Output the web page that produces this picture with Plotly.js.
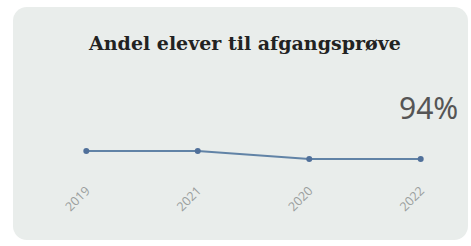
<!DOCTYPE html>
<html>
<head>
<meta charset="utf-8">
<script src="https://cdn.plot.ly/plotly-3.0.1.min.js"></script>
<style>
  html, body { margin: 0; padding: 0; background: #ffffff; }
  #card { position: absolute; left: 13px; top: 7px; width: 455px; height: 233px;
          background: #e9edeb; border-radius: 14px; }
  #chart { position: absolute; left: 0; top: 0; width: 471px; height: 246px; }
</style>
</head>
<body>
<div id="card"></div>
<div id="chart"></div>
<script>
const titleText = "Andel elever til afgangsprøve";
const years = ["2019", "2021", "2020", "2022"];
const shares = [95, 95, 94, 94];

const lastLabel = shares[shares.length - 1] + "%";

const trace = {
  type: "scatter",
  mode: "lines+markers",
  x: years,
  y: shares,
  line: { color: "#6183a6", width: 2 },
  marker: { color: "#50709a", size: 6 },
  hoverinfo: "skip"
};

const layout = {
  width: 471,
  height: 246,
  margin: { l: 64, r: 28, t: 100, b: 71 },
  paper_bgcolor: "rgba(0,0,0,0)",
  plot_bgcolor: "rgba(0,0,0,0)",
  showlegend: false,
  title: {
    text: titleText,
    font: { family: "DejaVu Serif", size: 19, color: "#222222", weight: "bold" },
    x: 0.52, xref: "container", xanchor: "center",
    y: 0.825, yref: "container", yanchor: "middle"
  },
  xaxis: {
    type: "category",
    range: [-0.2, 3.2],
    showgrid: false, zeroline: false, showline: false,
    ticks: "",
    tickangle: -45,
    ticklabelstandoff: 5,
    tickfont: { family: "Open Sans", size: 12.5, color: "#9a9e9d" }
  },
  yaxis: {
    range: [92, 101.375],
    visible: false,
    showgrid: false, zeroline: false
  },
  annotations: [{
    text: lastLabel,
    xref: "paper", yref: "paper",
    x: 1.045, y: 0.9, xanchor: "right", yanchor: "middle",
    showarrow: false,
    font: { family: "Noto Sans", size: 30, color: "#555555" }
  }]
};

Plotly.newPlot("chart", [trace], layout, { displayModeBar: false, staticPlot: true });
</script>
</body>
</html>
